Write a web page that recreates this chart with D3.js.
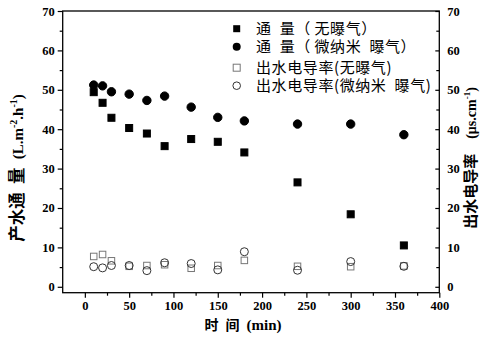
<!DOCTYPE html>
<html><head><meta charset="utf-8">
<script src="https://cdn.jsdelivr.net/npm/d3@7"></script>
<style>body{margin:0;background:#fff;}svg{display:block;}</style>
</head><body>
<svg id="c" width="492" height="343"></svg>
<script>
const times = [10, 20, 30, 50, 70, 90, 120, 150, 180, 240, 300, 360];
const fluxNoAer = [49.4, 46.7, 42.9, 40.3, 38.9, 35.7, 37.5, 36.8, 34.1, 26.5, 18.4, 10.5];
const fluxMicro = [51.2, 51.0, 49.5, 48.9, 47.3, 48.4, 45.6, 43.0, 42.1, 41.3, 41.3, 38.6];
const condNoAer = [7.7, 8.2, 6.6, 5.2, 5.4, 5.6, 4.7, 5.4, 6.7, 5.2, 5.1, 5.3];
const condMicro = [5.1, 4.8, 5.4, 5.4, 4.1, 6.1, 5.9, 4.3, 8.9, 4.2, 6.4, 5.2];
const xTicks = [0, 50, 100, 150, 200, 250, 300, 350, 400];
const yTicks = [0, 10, 20, 30, 40, 50, 60, 70];
const legendLabels = ["通\u2002量（\u2009无曝气）", "通\u2002量（\u2009微纳米\u2002曝气）", "出水电导率(无曝气)", "出水电导率(微纳米\u2002曝气)"];

const svg = d3.select("#c");
const L = 62.7, R = 439.3, T = 11, B = 292.7;
const x = d3.scaleLinear().domain([-25, 400]).range([L, R]);
const y = d3.scaleLinear().domain([-1.5, 70]).range([B, T]);
const yR = d3.scaleLinear().domain([-1.5, 70]).range([B, T]);

const serif = "'Liberation Serif','Times New Roman',serif";
const cjk = "'Noto Sans CJK SC',sans-serif";

svg.append("rect").attr("x", L).attr("y", T).attr("width", R - L).attr("height", B - T)
  .attr("fill", "none").attr("stroke", "#000").attr("stroke-width", 1.3);

const xMinor = d3.range(-25, 400, 50).filter(v => v > -25);
const yMinor = d3.range(5, 70, 10);

svg.append("g").attr("transform", `translate(0,${B})`)
  .call(d3.axisBottom(x).tickValues(xTicks).tickSize(5).tickPadding(3));
svg.append("g").attr("transform", `translate(0,${B})`)
  .call(d3.axisBottom(x).tickValues(xMinor).tickSize(3).tickFormat(""));
svg.append("g").attr("transform", `translate(${L},0)`)
  .call(d3.axisLeft(y).tickValues(yTicks).tickSize(5).tickPadding(3));
svg.append("g").attr("transform", `translate(${L},0)`)
  .call(d3.axisLeft(y).tickValues(yMinor).tickSize(3).tickFormat(""));
svg.append("g").attr("transform", `translate(${R},0)`)
  .call(d3.axisRight(yR).tickValues(yTicks).tickSize(-4).tickPadding(8));
svg.append("g").attr("transform", `translate(${R},0)`)
  .call(d3.axisRight(yR).tickValues(yMinor).tickSize(-3).tickFormat(""));

svg.selectAll(".domain").remove();
svg.selectAll(".tick line").attr("stroke", "#000").attr("stroke-width", 1.2);
svg.selectAll(".tick text").attr("font-family", serif).attr("font-weight", "bold")
  .attr("font-size", 12.5).attr("fill", "#000");

function squares(data, fill, stroke, size) {
  svg.append("g").selectAll("rect").data(data).join("rect")
    .attr("x", (d, i) => x(times[i]) - size / 2)
    .attr("y", d => y(d) - size / 2)
    .attr("width", size).attr("height", size)
    .attr("fill", fill).attr("stroke", stroke).attr("stroke-width", 1);
}
function circles(data, fill, stroke, r) {
  svg.append("g").selectAll("circle").data(data).join("circle")
    .attr("cx", (d, i) => x(times[i]))
    .attr("cy", d => y(d))
    .attr("r", r)
    .attr("fill", fill).attr("stroke", stroke).attr("stroke-width", 1);
}
squares(condNoAer, "none", "#777", 6.5);
circles(condMicro, "none", "#333", 4);
squares(fluxNoAer, "#000", "#000", 7);
circles(fluxMicro, "#000", "#000", 4.2);

const legY = [28.7, 46.7, 67.7, 85.7];
const lx = 236.7;
svg.append("rect").attr("x", lx - 3.5).attr("y", legY[0] - 3.5).attr("width", 7).attr("height", 7).attr("fill", "#000");
svg.append("circle").attr("cx", lx).attr("cy", legY[1]).attr("r", 4).attr("fill", "#000");
svg.append("rect").attr("x", lx - 3.5).attr("y", legY[2] - 3.5).attr("width", 7).attr("height", 7).attr("fill", "none").attr("stroke", "#777");
svg.append("circle").attr("cx", lx).attr("cy", legY[3]).attr("r", 3.8).attr("fill", "none").attr("stroke", "#333");
legendLabels.forEach((t, i) => {
  svg.append("text").attr("x", 256).attr("y", legY[i] + 5.5)
    .attr("font-family", cjk).attr("font-size", 15).attr("fill", "#000")
    .attr("letter-spacing", 0.6).text(t);
});

const xt = svg.append("text").attr("x", 243).attr("y", 329.5).attr("text-anchor", "middle")
  .attr("font-weight", "bold").attr("fill", "#000");
xt.append("tspan").attr("font-family", cjk).attr("font-size", 14).text("时\u2002间\u2002");
xt.append("tspan").attr("font-family", serif).attr("font-size", 15).text("(min)");

const ly = svg.append("text").attr("transform", "translate(23,168) rotate(-90)")
  .attr("text-anchor", "middle").attr("font-weight", "bold").attr("fill", "#000");
ly.append("tspan").attr("font-family", cjk).attr("font-size", 16.5).text("产水通\u2002量\u2002");
ly.append("tspan").attr("font-family", serif).attr("font-size", 15).text("(L.m");
ly.append("tspan").attr("font-family", serif).attr("font-size", 10).attr("dy", -6).text("-2");
ly.append("tspan").attr("font-family", serif).attr("font-size", 15).attr("dy", 6).text(".h");
ly.append("tspan").attr("font-family", serif).attr("font-size", 10).attr("dy", -6).text("-1");
ly.append("tspan").attr("font-family", serif).attr("font-size", 15).attr("dy", 6).text(")");

const ry = svg.append("text").attr("transform", "translate(476,158) rotate(-90)")
  .attr("text-anchor", "middle").attr("font-weight", "bold").attr("fill", "#000");
ry.append("tspan").attr("font-family", cjk).attr("font-size", 15).text("出水电导率\u2003");
ry.append("tspan").attr("font-family", serif).attr("font-size", 14).text("(μs.cm");
ry.append("tspan").attr("font-family", serif).attr("font-size", 9).attr("dy", -6).text("-1");
ry.append("tspan").attr("font-family", serif).attr("font-size", 14).attr("dy", 6).text(")");
</script>
</body></html>
